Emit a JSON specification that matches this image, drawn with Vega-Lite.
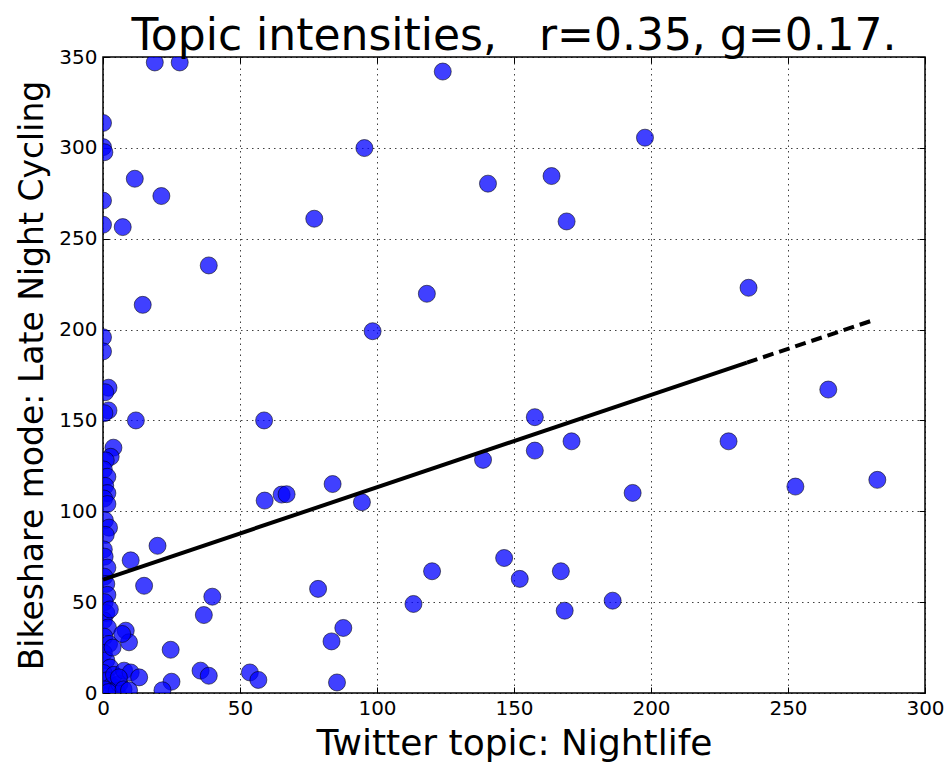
{
  "$schema": "https://vega.github.io/schema/vega-lite/v6.json",
  "width": 822,
  "height": 636,
  "autosize": "none",
  "padding": {"left": 103, "top": 57, "right": 24, "bottom": 70},
  "background": "white",
  "config": {
    "view": {"stroke": "#000", "strokeWidth": 1.5},
    "font": "DejaVu Sans",
    "axis": {
      "domain": false,
      "grid": true,
      "gridColor": "#000",
      "gridOpacity": 0.75,
      "gridDash": [1.5, 4],
      "gridWidth": 1,
      "ticks": true,
      "tickSize": -6,
      "tickColor": "#000",
      "tickWidth": 1,
      "labelFont": "DejaVu Sans",
      "labelFontSize": 20,
      "labelColor": "#000",
      "titleFont": "DejaVu Sans",
      "titleFontWeight": "normal",
      "titleColor": "#000"
    }
  },
  "title": {
    "text": "Topic intensities,\u00a0\u00a0\u00a0r=0.35, g=0.17.",
    "fontSize": 44,
    "font": "DejaVu Sans",
    "fontWeight": "normal",
    "color": "#000",
    "anchor": "middle",
    "frame": "group",
    "baseline": "alphabetic",
    "offset": -47
  },
  "datasets": {
    "pts": [
      {"x": 18.9, "y": 347}, {"x": 28, "y": 347}, {"x": 124, "y": 342}, {"x": 11.6, "y": 283}, {"x": 21.3, "y": 273.5},
      {"x": 7.2, "y": 256.4}, {"x": 38.6, "y": 235.3}, {"x": 14.5, "y": 213.6},
      {"x": 95.4, "y": 299.9}, {"x": 77.1, "y": 261}, {"x": 140.5, "y": 280.3}, {"x": 163.7, "y": 284.5},
      {"x": 169.2, "y": 259.5}, {"x": 197.8, "y": 305.6}, {"x": 118.2, "y": 219.7}, {"x": 98.4, "y": 199.1},
      {"x": 235.6, "y": 223},
      {"x": 12, "y": 150}, {"x": 58.8, "y": 150}, {"x": 59, "y": 105.9}, {"x": 65.2, "y": 109.2}, {"x": 67, "y": 109.4},
      {"x": 19.9, "y": 81}, {"x": 10.1, "y": 73}, {"x": 15, "y": 59}, {"x": 39.9, "y": 53}, {"x": 36.8, "y": 42.9},
      {"x": 24.7, "y": 23.8}, {"x": 35.6, "y": 12.3}, {"x": 38.6, "y": 9.5}, {"x": 53.6, "y": 11.3}, {"x": 56.7, "y": 7.2},
      {"x": 25, "y": 6.2}, {"x": 21.7, "y": 1.5},
      {"x": 83.8, "y": 115}, {"x": 94.5, "y": 105}, {"x": 138.7, "y": 128.3}, {"x": 157.6, "y": 151.8},
      {"x": 157.6, "y": 133.4}, {"x": 171, "y": 138.5}, {"x": 193.3, "y": 110.1}, {"x": 78.5, "y": 57.3},
      {"x": 120.1, "y": 67}, {"x": 113.3, "y": 49}, {"x": 146.4, "y": 74.3}, {"x": 152.1, "y": 62.8},
      {"x": 167.1, "y": 67}, {"x": 168.5, "y": 45.3}, {"x": 186, "y": 50.8}, {"x": 87.7, "y": 35.8},
      {"x": 83.4, "y": 28.4}, {"x": 85.4, "y": 5.8},
      {"x": 264.7, "y": 167}, {"x": 228.3, "y": 138.5}, {"x": 252.7, "y": 113.6}, {"x": 282.6, "y": 117.3},
      {"x": 0, "y": 313.7}, {"x": 0, "y": 300.4}, {"x": 0.5, "y": 297.6}, {"x": 0, "y": 271}, {"x": 0, "y": 257.7},
      {"x": 0, "y": 195.8}, {"x": 0, "y": 188},
      {"x": 2, "y": 168}, {"x": 0.8, "y": 165.5}, {"x": 2, "y": 155.5}, {"x": 0.5, "y": 154}, {"x": 3.8, "y": 135},
      {"x": 2.8, "y": 130}, {"x": 1, "y": 128}, {"x": 0.3, "y": 123}, {"x": 1.6, "y": 119}, {"x": 0.8, "y": 114},
      {"x": 1.6, "y": 110}, {"x": 0.4, "y": 107}, {"x": 1.6, "y": 104}, {"x": 0.7, "y": 95}, {"x": 2.2, "y": 91},
      {"x": 1, "y": 87}, {"x": 0.3, "y": 79}, {"x": 0.6, "y": 75}, {"x": 1.6, "y": 69}, {"x": 0.5, "y": 64},
      {"x": 1.2, "y": 60}, {"x": 1.6, "y": 54}, {"x": 0.6, "y": 50}, {"x": 1.2, "y": 44}, {"x": 0.3, "y": 40},
      {"x": 1.8, "y": 36}, {"x": 0.5, "y": 31}, {"x": 2.2, "y": 27}, {"x": 0.3, "y": 22}, {"x": 1.2, "y": 18},
      {"x": 2.6, "y": 14}, {"x": 0.2, "y": 11}, {"x": 1.6, "y": 7}, {"x": 3.2, "y": 4}, {"x": 0.5, "y": 2},
      {"x": 5, "y": 1}, {"x": 6, "y": 5}, {"x": 2, "y": 0.5}, {"x": 4, "y": 10}, {"x": 7.7, "y": 12.3},
      {"x": 10.1, "y": 11.3}, {"x": 13.2, "y": 8.6}, {"x": 5.8, "y": 8.6}, {"x": 8.3, "y": 34.3}, {"x": 9.5, "y": 27.9},
      {"x": 7, "y": 32.5}, {"x": 7.5, "y": 2}, {"x": 9.5, "y": 1.5}, {"x": 3.5, "y": 25}, {"x": 2.5, "y": 46}
    ],
    "fitSolid": [{"x": 0, "y": 62.4}, {"x": 235, "y": 181.8}],
    "fitDash": [{"x": 235, "y": 181.8}, {"x": 281, "y": 205.1}]
  },
  "resolve": {"axis": {"x": "independent", "y": "independent"}},
  "layer": [
    {
      "data": {"name": "pts"},
      "mark": {
        "type": "point",
        "filled": true,
        "clip": true,
        "size": 290,
        "color": "#0000ff",
        "fillOpacity": 0.75,
        "stroke": "#000",
        "strokeOpacity": 0.55,
        "strokeWidth": 1
      },
      "encoding": {
        "x": {
          "field": "x", "type": "quantitative",
          "scale": {"domain": [0, 300], "nice": false, "zero": false},
          "axis": {
            "orient": "bottom",
            "values": [0, 50, 100, 150, 200, 250, 300],
            "title": "Twitter topic: Nightlife",
            "titleFontSize": 36,
            "titleBaseline": "alphabetic",
            "titleY": 61,
            "labelPadding": 11,
            "labelFlush": false
          }
        },
        "y": {
          "field": "y", "type": "quantitative",
          "scale": {"domain": [0, 350], "nice": false, "zero": false},
          "axis": {
            "orient": "left",
            "values": [0, 50, 100, 150, 200, 250, 300, 350],
            "title": "Bikeshare mode: Late Night Cycling",
            "titleFontSize": 33,
            "titleBaseline": "alphabetic",
            "titleX": -61,
            "labelPadding": 12,
            "labelFlush": false
          }
        }
      }
    },
    {
      "data": {"name": "fitSolid"},
      "mark": {"type": "line", "color": "#000", "strokeWidth": 4},
      "encoding": {
        "x": {"field": "x", "type": "quantitative",
          "axis": {"orient": "top", "values": [0, 50, 100, 150, 200, 250, 300], "labels": false, "grid": false, "title": null}},
        "y": {"field": "y", "type": "quantitative",
          "axis": {"orient": "right", "values": [0, 50, 100, 150, 200, 250, 300, 350], "labels": false, "grid": false, "title": null}}
      }
    },
    {
      "data": {"name": "fitDash"},
      "mark": {"type": "line", "color": "#000", "strokeWidth": 4, "strokeDash": [11, 6]},
      "encoding": {
        "x": {"field": "x", "type": "quantitative", "axis": null},
        "y": {"field": "y", "type": "quantitative", "axis": null}
      }
    }
  ]
}
